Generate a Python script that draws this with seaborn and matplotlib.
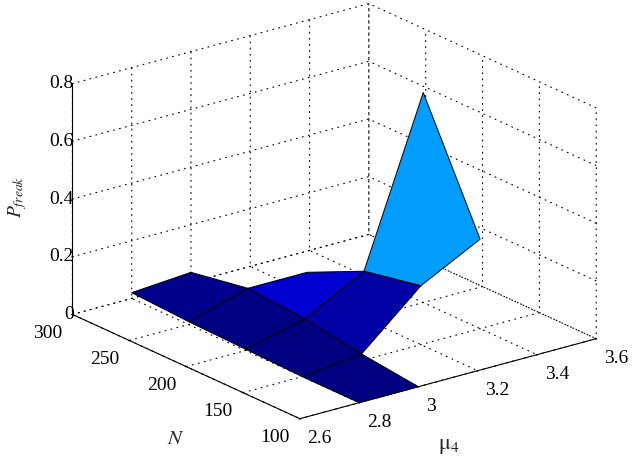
import numpy as np
import matplotlib
matplotlib.use("Agg")
from matplotlib import pyplot as plt
from matplotlib.colors import Normalize
from mpl_toolkits.mplot3d.art3d import Poly3DCollection
import seaborn as sns

# rows are mu4, columns are N, nan where the surface has a hole
mu4_values = [2.8, 3.0, 3.2, 3.4]
n_values = [100, 150, 200, 250, 300]
p_28 = [0.0, 0.0, 0.005, 0.01, 0.02]
p_30 = [0.0, 0.023, 0.054, 0.07, 0.035]
p_32 = [np.nan, 0.204, 0.164, 0.07, np.nan]
p_34 = [np.nan, 0.31, 0.728, np.nan, np.nan]

n_ticks = [100, 150, 200, 250, 300]
mu_ticks = [2.6, 2.8, 3.0, 3.2, 3.4, 3.6]
mu_labels = ["2.6", "2.8", "3", "3.2", "3.4", "3.6"]
z_ticks = [0, 0.2, 0.4, 0.6, 0.8]
z_labels = ["0", "0.2", "0.4", "0.6", "0.8"]

sns.set_theme(style="white")
plt.rcParams["font.family"] = ["Liberation Serif", "DejaVu Serif"]
plt.rcParams["mathtext.fontset"] = "stix"
plt.rcParams["grid.color"] = "black"
plt.rcParams["grid.linewidth"] = 0.8
plt.rcParams["grid.linestyle"] = (0, (1.5, 4))

W, H = 636, 463
fig = plt.figure(figsize=(W / 100, H / 100), dpi=100)
side = 566
cx, cy = 326.7, 218.8
ax = fig.add_axes([(cx - side / 2) / W, (H - cy - side / 2) / H, side / W, side / H],
                  projection="3d", proj_type="ortho")
ax.patch.set_alpha(0)
ax.view_init(elev=20.6, azim=-37.5)
ax.set_box_aspect((1, 1, 0.66))

Z = np.array([p_28, p_30, p_32, p_34])
cmap = plt.get_cmap("jet")
norm = Normalize(0, np.nanmax(Z))

# flat shading from the first corner, cells touching a nan are left out
polys, face_colors = [], []
for i in range(len(mu4_values) - 1):
    for j in range(len(n_values) - 1):
        if np.isnan(Z[i:i + 2, j:j + 2]).any():
            continue
        polys.append([(n_values[j], mu4_values[i], Z[i, j]),
                      (n_values[j + 1], mu4_values[i], Z[i, j + 1]),
                      (n_values[j + 1], mu4_values[i + 1], Z[i + 1, j + 1]),
                      (n_values[j], mu4_values[i + 1], Z[i + 1, j])])
        face_colors.append(cmap(norm(Z[i, j])))
ax.add_collection3d(Poly3DCollection(polys, facecolors=face_colors, edgecolors="black", linewidths=0.7))

ax.set_xlim(300, 100, view_margin=0)
ax.set_ylim(2.6, 3.6, view_margin=0)
ax.set_zlim(0, 0.8, view_margin=0)
ax.set_xticks(n_ticks, [str(n) for n in n_ticks], ha="right", va="top")
ax.set_yticks(mu_ticks, mu_labels, ha="left", va="top")
ax.set_zticks(z_ticks, z_labels, ha="right", va="center")

for axis in (ax.xaxis, ax.yaxis, ax.zaxis):
    axis.set_pane_color((1, 1, 1, 0))
    axis.pane.set_edgecolor((1, 1, 1, 0))
    axis.line.set_color("black")
    axis.line.set_linewidth(0.8)
    axis._axinfo["tick"]["inward_factor"] = 0.03
    axis._axinfo["tick"]["outward_factor"] = 0.03
    axis._axinfo["tick"]["linewidth"] = {True: 0.8, False: 0.8}
    axis._axinfo["tick"]["color"] = "black"
ax.zaxis.set_ticks_position("lower")
ax.tick_params(axis="both", labelsize=14, colors="black", pad=-0.8)
ax.zaxis.set_tick_params(pad=-8.5)

fig.text(176 / W, 1 - 439 / H, "$N$", fontsize=15, ha="center", va="center")
fig.text(449 / W, 1 - 447 / H, "$\\mathrm{\\mu}_{\\mathit{4}}$", fontsize=16, ha="center", va="center")
fig.text(18 / W, 1 - 197 / H, "$P_{freak}$", fontsize=14, rotation=90, ha="center", va="center")

fig.savefig("out.png", dpi=100)
